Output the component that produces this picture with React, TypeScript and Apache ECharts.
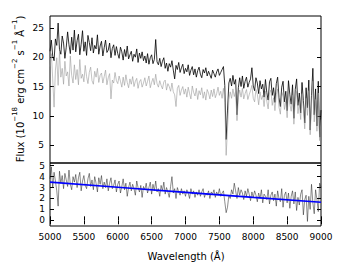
import React, { useEffect, useRef } from "react";
import * as echarts from "echarts";

const WAVE_START = 5000;
const WAVE_STEP = 20;

const fluxBlack = [
  21.0, 22.9, 20.2, 19.4, 23.1, 22.0, 25.8, 21.3, 20.5, 23.6,
  22.4, 19.8, 21.7, 24.3, 22.1, 20.6, 23.4, 21.2, 24.6, 20.9,
  22.8, 23.9, 20.4, 22.2, 24.5, 21.0, 22.6, 20.3, 23.7, 22.5,
  21.1, 23.3, 20.7, 22.0, 21.4, 23.8, 20.5, 21.9, 22.7, 20.2,
  21.6, 22.9, 20.8, 21.2, 22.4, 19.9, 21.5, 22.1, 20.3, 21.8,
  20.6, 19.8, 21.7, 20.9, 19.5, 21.3, 20.1, 21.9, 19.7, 20.4,
  21.0, 19.3, 20.5, 20.0, 21.4, 19.1, 20.7, 19.8, 20.9, 19.4,
  20.2, 19.0, 20.6, 18.8, 19.9, 20.4, 18.9, 19.6, 23.0, 19.2,
  18.7, 19.8, 18.4, 19.3, 19.9, 18.1, 19.0, 17.6, 18.9, 18.3,
  19.4, 17.8, 16.3, 18.6, 17.9, 19.1, 17.4, 18.2, 18.8, 17.2,
  18.1, 17.5, 18.7, 16.9, 17.8, 18.4, 17.0, 18.0, 16.6, 17.7,
  18.3, 17.1, 16.5, 17.9, 17.3, 18.2, 16.8, 17.6, 17.0, 16.4,
  17.8, 17.2, 16.6, 17.5, 18.0, 16.9, 17.4, 17.9, 18.4, 15.2,
  6.0, 11.0, 15.6, 16.4, 15.1, 16.9, 15.4, 16.2, 10.2, 14.8,
  16.5, 15.0, 16.8, 14.7, 15.9, 16.6, 14.9, 15.7, 16.3, 18.2,
  15.1, 14.3, 16.5, 15.6, 13.8, 16.0, 14.6, 15.4, 13.2, 16.2,
  14.0, 12.7, 15.8, 16.4, 13.5, 14.8, 12.3, 15.5, 16.6, 13.1,
  11.6, 14.9, 15.9, 12.4, 14.2, 10.9, 16.0, 13.6, 12.0, 15.3,
  9.6, 14.5, 16.3, 11.8, 13.9, 10.5, 15.7, 12.6, 8.8, 14.8,
  11.4, 16.1, 7.6, 13.5, 18.1, 10.2, 14.6, 8.3, 15.9, 6.4,
  11.0,
];

const fluxGray = [
  18.4, 20.6, 16.3, 11.5, 17.8, 19.9, 15.2, 21.0, 16.6, 18.1,
  15.4, 19.3, 16.8, 17.5, 15.1, 20.2, 16.9, 15.6, 18.7, 16.2,
  17.9, 15.3, 19.6, 16.4, 17.1, 15.8, 18.6, 16.7, 15.5, 17.4,
  18.3, 16.0, 15.4, 17.6, 16.6, 18.1, 15.7, 16.9, 17.3, 15.6,
  16.7, 17.8, 15.3, 16.5, 17.2, 12.9, 16.1, 15.6, 17.4, 16.0,
  15.5, 16.8, 15.9, 14.9, 16.6, 15.2, 17.0, 15.7, 14.8, 16.3,
  15.4, 16.7, 15.0, 15.9, 16.4, 14.7, 15.8, 16.2, 14.9, 15.6,
  16.5, 15.1, 15.9, 16.8, 14.8, 15.7, 16.4, 15.3, 17.1, 15.5,
  14.9, 16.0, 15.2, 14.6, 15.8, 16.1, 14.4, 15.5, 15.0, 14.2,
  15.6, 14.1, 13.6, 11.6, 14.7, 15.2, 13.5, 14.4, 15.0, 13.7,
  14.6, 13.2, 14.9, 13.8, 12.9, 15.1, 14.0, 13.4, 14.7, 12.8,
  14.3, 13.6, 14.8, 13.0, 14.1, 12.7, 14.5, 13.9, 12.9, 14.4,
  13.3, 14.6, 13.1, 13.8, 14.9, 13.5, 14.2, 13.0, 14.7, 12.3,
  3.3, 7.8, 12.8, 14.1, 13.0, 14.6, 13.3, 14.2, 9.2, 13.1,
  14.4, 13.2, 14.7, 12.9, 13.8, 14.5, 12.8, 13.6, 14.3, 15.2,
  13.0, 12.4, 14.5, 13.7, 11.9, 14.1, 12.8, 13.5, 11.6, 14.2,
  12.5, 11.2, 13.9, 14.4, 11.8, 13.1, 10.9, 13.6, 14.6, 11.5,
  10.3, 13.2, 14.0, 11.1, 12.6, 9.7, 14.1, 12.0, 10.8, 13.5,
  8.6, 12.8, 14.2, 10.4, 12.3, 9.4, 13.8, 11.2, 7.8, 13.0,
  10.1, 14.3, 6.8, 11.9, 15.9, 9.0, 12.8, 7.4, 13.9, 5.8,
  9.4,
];

const ratio = [
  3.8, 4.9, 3.0, 4.4, 3.6, 2.7, 1.3, 4.5, 3.4, 4.1,
  2.9, 4.3, 3.7, 3.1, 4.6, 3.3, 2.8, 4.0, 3.5, 4.2,
  3.0, 3.9, 4.4, 2.7, 3.6, 4.1, 3.2, 2.9, 3.8, 4.3,
  3.1, 3.7, 2.8, 4.0, 3.4, 2.6, 3.9, 3.3, 4.1, 2.9,
  3.5, 3.0, 3.8, 2.7, 3.4, 3.9, 2.9, 3.2, 3.7, 2.6,
  3.3, 3.6, 2.5, 3.1, 3.8, 2.8, 3.4, 2.2, 3.0, 3.5,
  2.7, 3.3, 2.9, 2.3, 3.6, 3.0, 2.6, 3.2, 2.1, 3.1,
  2.8, 3.4, 2.5, 3.0, 3.5, 2.4, 3.3, 2.7, 3.6, 2.6,
  2.9, 2.2, 3.2, 2.7, 3.5, 2.4, 3.0, 2.6, 2.1, 3.1,
  4.0, 2.5, 2.9, 2.0, 3.0, 2.6, 2.3, 2.9, 2.4, 2.7,
  2.2, 2.8, 2.5, 2.0, 2.9, 2.4, 2.7, 2.1, 2.6, 2.3,
  2.8, 2.2, 2.6, 2.9, 2.1, 2.5, 2.3, 2.7, 2.0, 2.6,
  2.4, 2.8, 2.1, 2.6, 2.3, 2.9, 2.2, 2.5, 2.7, 1.7,
  0.7, 1.2, 2.3, 2.0, 2.8, 2.4, 3.4, 2.7, 2.0, 3.0,
  2.3, 2.8, 2.5, 1.9, 2.7, 2.2, 2.9, 2.4, 1.8, 2.6,
  2.1, 2.7, 2.3, 1.7, 2.5, 2.0, 2.8, 1.6, 2.4, 2.2,
  1.9, 2.8, 1.5, 2.3, 2.6, 1.8, 2.4, 1.3, 2.7, 2.0,
  1.7, 2.9, 1.2, 2.3, 2.6, 1.6, 2.5, 1.1, 2.2, 2.7,
  1.5, 2.6, 0.9, 2.1, 1.4, 2.4, 2.8, 0.5, 1.9, 2.3,
  -0.1, 2.2, 1.0, 3.3, 1.6, 0.6, 2.8, 1.9, 0.8, 3.4,
  3.0,
];

const fitWave = [5000, 6000, 7000, 8000, 9000];
const fitValues = [3.5, 3.03, 2.56, 2.1, 1.65];

const xTicks = [5000, 5500, 6000, 6500, 7000, 7500, 8000, 8500, 9000];
const topYTicks = [5, 10, 15, 20, 25];
const bottomYTicks = [0, 1, 2, 3, 4, 5];

const FONT = "DejaVu Sans";

function pairs(vals: number[]) {
  return vals.map((v, i) => [WAVE_START + WAVE_STEP * i, v]);
}

export default function App() {
  const ref = useRef<HTMLDivElement>(null);
  useEffect(() => {
    if (!ref.current) return;
    const chart = echarts.init(ref.current, undefined, { renderer: "svg" });
    const tick = (vals: number[], show = true) => ({
      show,
      inside: true,
      length: 4,
      customValues: vals,
      lineStyle: { color: "#000", width: 1 },
    });
    const baseX = {
      type: "value" as const,
      min: 5000,
      max: 9000,
      splitLine: { show: false },
      axisLine: { show: false },
    };
    const fmt = (v: number) => String(v);
    chart.setOption({
      animation: false,
      backgroundColor: "#fff",
      textStyle: { fontFamily: FONT },
      grid: [
        { left: 50, right: 22, top: 16, height: 147, show: true, borderColor: "#000", borderWidth: 1, backgroundColor: "transparent" },
        { left: 50, right: 22, top: 163, height: 63, show: true, borderColor: "#000", borderWidth: 1, backgroundColor: "transparent" },
      ],
      xAxis: [
        { ...baseX, gridIndex: 0, position: "bottom", axisTick: { show: false }, axisLabel: { show: false } },
        {
          ...baseX,
          gridIndex: 1,
          position: "bottom",
          axisTick: tick(xTicks),
          axisLabel: { customValues: xTicks, formatter: fmt, color: "#000", fontSize: 9, fontFamily: FONT, margin: 6 },
        },
        { ...baseX, gridIndex: 1, position: "top", axisTick: tick(xTicks), axisLabel: { show: false } },
      ],
      yAxis: [
        {
          type: "value", gridIndex: 0, min: 2, max: 27, position: "left",
          splitLine: { show: false }, axisLine: { show: false },
          axisTick: tick(topYTicks),
          axisLabel: { customValues: topYTicks, formatter: fmt, color: "#000", fontSize: 9, fontFamily: FONT, margin: 6 },
        },
        {
          type: "value", gridIndex: 0, min: 2, max: 27, position: "right",
          splitLine: { show: false }, axisLine: { show: false },
          axisTick: tick(topYTicks), axisLabel: { show: false },
        },
        {
          type: "value", gridIndex: 1, min: -0.52, max: 5.25, position: "left",
          splitLine: { show: false }, axisLine: { show: false },
          axisTick: tick(bottomYTicks),
          axisLabel: { customValues: bottomYTicks, formatter: fmt, color: "#000", fontSize: 9, fontFamily: FONT, margin: 5 },
        },
        {
          type: "value", gridIndex: 1, min: -0.52, max: 5.25, position: "right",
          splitLine: { show: false }, axisLine: { show: false },
          axisTick: tick(bottomYTicks), axisLabel: { show: false },
        },
      ],
      series: [
        {
          type: "line", xAxisIndex: 0, yAxisIndex: 0, data: pairs(fluxBlack),
          showSymbol: false, lineStyle: { color: "#000", width: 0.8 }, z: 2,
        },
        {
          type: "line", xAxisIndex: 0, yAxisIndex: 0, data: pairs(fluxGray),
          showSymbol: false, lineStyle: { color: "#9a9a9a", width: 0.6 }, z: 3,
        },
        {
          type: "line", xAxisIndex: 1, yAxisIndex: 2, data: pairs(ratio),
          showSymbol: false, lineStyle: { color: "#1a1a1a", width: 0.5 }, z: 2,
        },
        {
          type: "line", xAxisIndex: 1, yAxisIndex: 2,
          data: fitWave.map((w, i) => [w, fitValues[i]]),
          showSymbol: false, lineStyle: { color: "#0000ff", width: 1.6 }, z: 4,
        },
      ],
      graphic: [
        {
          type: "text",
          x: 186,
          y: 256,
          style: {
            text: "Wavelength (Å)",
            fontFamily: FONT,
            fontSize: 10,
            fill: "#000",
            align: "center",
            verticalAlign: "middle",
          },
        },
        {
          type: "text",
          x: 18,
          y: 89,
          rotation: Math.PI / 2,
          style: {
            text: "{m|Flux (10}{s|−18}{m| erg cm}{s|−2}{m| s}{s|−1}{m| Å}{s|−1}{m|)}",
            fontFamily: FONT,
            align: "center",
            verticalAlign: "middle",
            fill: "#000",
            rich: {
              m: { fontSize: 10, fontFamily: FONT, lineHeight: 14, fill: "#000", verticalAlign: "bottom" },
              s: { fontSize: 7, fontFamily: FONT, lineHeight: 14, fill: "#000", verticalAlign: "top" },
            },
          },
        },
      ],
    });
    return () => chart.dispose();
  }, []);
  return <div ref={ref} style={{ width: 343, height: 271, margin: -8 }} />;
}
